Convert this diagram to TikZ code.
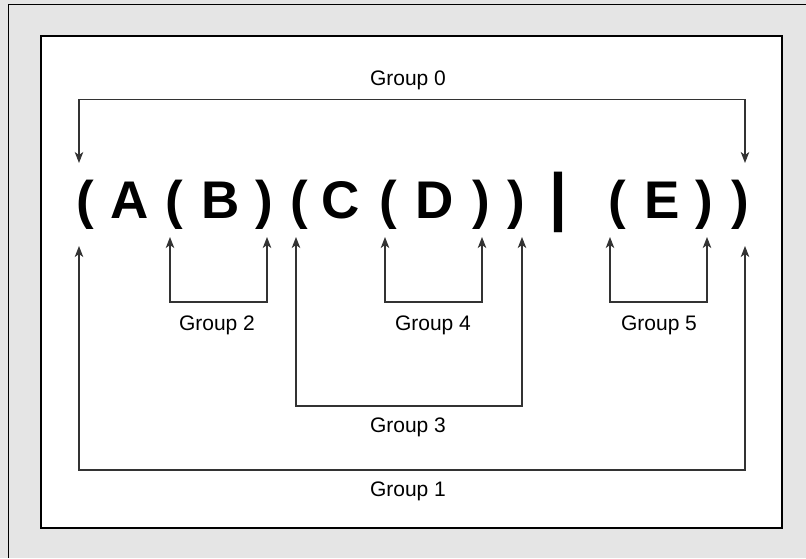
\documentclass[tikz,border=0pt]{standalone}
\usepackage{fontspec}
\setmainfont{Liberation Sans}
\usetikzlibrary{arrows.meta}
\definecolor{bggray}{HTML}{E5E5E5}
\definecolor{linegray}{HTML}{333333}
\tikzset{
  big/.style={font=\fontsize{53}{60}\selectfont\bfseries, inner sep=0pt, anchor=base},
  barstyle/.style={font=\fontsize{64}{70}\selectfont\bfseries, inner sep=0pt, anchor=base},
  lbl/.style={font=\fontsize{21}{24}\selectfont, inner sep=0pt, anchor=base},
  conn/.style={draw=linegray, line width=1.1pt, {Stealth[length=11pt,width=8.5pt,inset=3pt]}-{Stealth[length=11pt,width=8.5pt,inset=3pt]}}
}
\begin{document}
\begin{tikzpicture}[x=1pt,y=-1pt]
\useasboundingbox (0,0) rectangle (806,558);
\fill[bggray] (0,0) rectangle (806,558);
\draw[black, line width=1.2pt] (8.5,558) -- (8.5,4.5) -- (806,4.5);
\draw[black, line width=1.1pt, fill=white] (41,36) rectangle (782,528);

% expression
\node[big] (p1) at (85,218) {(};
\node[big] (cA) at (130,218) {A};
\node[big] (p2) at (174,218) {(};
\node[big] (cB) at (221,218) {B};
\node[big] (q2) at (264,218) {)};
\node[big] (p3) at (299,218) {(};
\node[big] (cC) at (341,218) {C};
\node[big] (p4) at (388,218) {(};
\node[big] (cD) at (435,218) {D};
\node[big] (q4) at (481,218) {)};
\node[big] (q3) at (516,218) {)};
\node[barstyle] (bar) at (558,218) {|};
\node[big] (p5) at (617,218) {(};
\node[big] (cE) at (662,218) {E};
\node[big] (q5) at (704,218) {)};
\node[big] (q1) at (740,218) {)};

% arrow tips
\coordinate (t0l) at (79,163);
\coordinate (t0r) at (745,163);
\coordinate (t1l) at (79,246);
\coordinate (t1r) at (745,246);
\coordinate (t2l) at (170,237);
\coordinate (t2r) at (267,237);
\coordinate (t3l) at (296,237);
\coordinate (t3r) at (522,237);
\coordinate (t4l) at (385,237);
\coordinate (t4r) at (482,237);
\coordinate (t5l) at (610,237);
\coordinate (t5r) at (707,237);

\draw[conn] (t0l) -- ++(0,-63.5) -| (t0r);
\draw[conn] (t1l) -- ++(0,224) -| (t1r);
\draw[conn] (t2l) -- ++(0,65) -| (t2r);
\draw[conn] (t3l) -- ++(0,169) -| (t3r);
\draw[conn] (t4l) -- ++(0,65) -| (t4r);
\draw[conn] (t5l) -- ++(0,65) -| (t5r);

% labels
\node[lbl] (g0) at (408,85) {Group 0};
\node[lbl] (g2) at (217,330) {Group 2};
\node[lbl] (g4) at (433,330) {Group 4};
\node[lbl] (g5) at (659,330) {Group 5};
\node[lbl] (g3) at (408,432) {Group 3};
\node[lbl] (g1) at (408,496) {Group 1};
\end{tikzpicture}
\end{document}
